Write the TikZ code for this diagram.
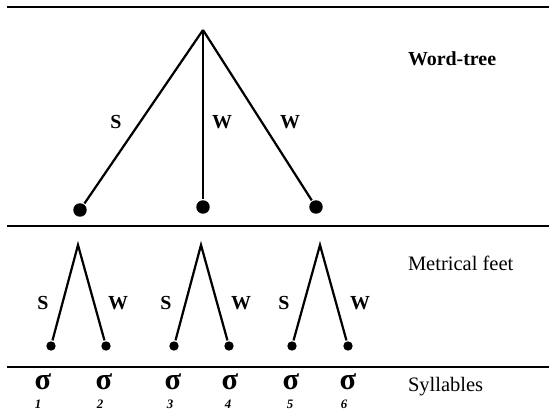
\documentclass[tikz,border=0pt]{standalone}
\usepackage{fontspec}
\setmainfont{Liberation Serif}
\usetikzlibrary{positioning}

\begin{document}
\begin{tikzpicture}[x=0.03cm, y=-0.03cm, line width=1.9pt,
  every node/.style={font=\fontsize{17}{17}\selectfont\bfseries},
  bigdot/.style={circle, fill, inner sep=0pt, minimum size=11.5pt},
  smalldot/.style={circle, fill, inner sep=0pt, minimum size=8pt},
  tierlabel/.style={anchor=west, font=\fontsize{17.5}{17.5}\selectfont}]
        \useasboundingbox (0,0) rectangle (549,418);
        % tier rules
        \foreach \y in {7,226,367} {
          \draw[line width=1.3pt] (7,\y) -- (549,\y);
        }
        % word tree
        \coordinate (top) at (203,30);
        \foreach \i/\xp/\yp in {1/80/210, 2/203/207, 3/316/207} {
          \node[bigdot] (w\i) at (\xp,\yp) {};
          \draw (top) -- (w\i);
        }
        \node at (116,122) {S};
        \node at (222,122) {W};
        \node at (290,122) {W};
        \node[tierlabel, font=\fontsize{17}{17}\selectfont\bfseries] (wordtree) at (403,59) {Word-tree};
        % metrical feet
        \foreach \f/\a/\l/\r in {1/78/51/106, 2/201/174/229, 3/320/292/348} {
          \coordinate (f\f) at (\a,245);
          \node[smalldot] (f\f s) at (\l,346) {};
          \node[smalldot] (f\f w) at (\r,346) {};
          \draw (f\f s) -- (f\f) -- (f\f w);
          \node at (\l-8,303) {S};
          \node at (\r+12,303) {W};
        }
        \node[tierlabel] (feet) at (403,263) {Metrical feet};
        % syllables
        \foreach \i/\xp/\nx in {1/43/38, 2/104/100, 3/173/170, 4/230/228, 5/291/290, 6/348/344} {
          \node[font=\fontsize{26}{26}\selectfont\bfseries] (s\i) at (\xp,382) {σ};
          \node[font=\fontsize{11}{11}\selectfont\bfseries\itshape] (n\i) at (\nx,404) {\i};
        }
        \node[tierlabel] (syll) at (403,387) {Syllables};
      \end{tikzpicture}
\end{document}
